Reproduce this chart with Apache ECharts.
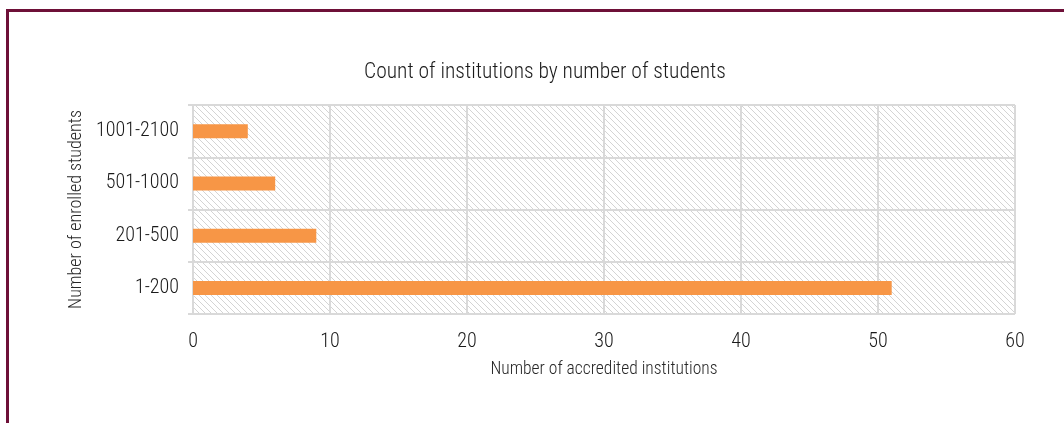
<!DOCTYPE html>
<html>
<head>
<meta charset="utf-8">
<script src="https://cdn.jsdelivr.net/npm/echarts@6/dist/echarts.min.js"></script>
<style>
  html, body { margin: 0; padding: 0; background: #fff; }
  #chart { width: 1064px; height: 423px; position: relative; }
  #frame { position: absolute; left: 6px; top: 9px; right: 0; bottom: 0;
           border-left: 3px solid #6e1038; border-top: 3px solid #6e1038; pointer-events: none; }
</style>
</head>
<body>
<div id="chart"></div>
<div id="frame"></div>
<script>
// Enrolment bands and how many accredited institutions fall in each
const categories = ['1-200', '201-500', '501-1000', '1001-2100'];
const institutionCounts = [51, 9, 6, 4];
const xTicks = { min: 0, max: 60, interval: 10 };

const FONT = "'Roboto Condensed', 'Liberation Sans Narrow', sans-serif";
const WEIGHT = 300;

// Light diagonal hatch tile used as the plot background
function hatchTile() {
  const s = 6;
  const c = document.createElement('canvas');
  c.width = s; c.height = s;
  const g = c.getContext('2d');
  g.strokeStyle = '#d4d4d4';
  g.lineWidth = 1;
  g.beginPath();
  g.moveTo(-1, -1); g.lineTo(s + 1, s + 1);
  g.moveTo(-1, s - 1); g.lineTo(1, s + 1);
  g.moveTo(s - 1, -1); g.lineTo(s + 1, 1);
  g.stroke();
  return c;
}

const chart = echarts.init(document.getElementById('chart'), null, { renderer: 'canvas' });
chart.setOption({
  animation: false,
  title: {
    text: 'Count of institutions by number of students',
    left: 540, top: 57, textAlign: 'center',
    textStyle: { fontFamily: FONT, fontSize: 21.5, fontWeight: WEIGHT, color: '#1a1a1a' }
  },
  grid: {
    left: 193, right: 49, top: 105, bottom: 109,
    show: true, borderWidth: 0,
    backgroundColor: { image: hatchTile(), repeat: 'repeat' }
  },
  xAxis: {
    type: 'value',
    min: xTicks.min, max: xTicks.max, interval: xTicks.interval,
    name: 'Number of accredited institutions',
    nameLocation: 'middle', nameGap: 47,
    nameTextStyle: { fontFamily: FONT, fontSize: 17.5, fontWeight: WEIGHT, color: '#262626' },
    axisLine: { show: false },
    axisTick: { show: false },
    axisLabel: { fontFamily: FONT, fontSize: 20, fontWeight: WEIGHT, color: '#1a1a1a', margin: 18 },
    splitLine: { show: true, lineStyle: { color: '#d9d9d9', width: 2 } }
  },
  yAxis: {
    type: 'category',
    data: categories,
    name: 'Number of enrolled students',
    nameLocation: 'middle', nameGap: 106, nameRotate: 90,
    nameTextStyle: { fontFamily: FONT, fontSize: 18, fontWeight: WEIGHT, color: '#262626' },
    axisLine: { show: true, lineStyle: { color: '#d9d9d9', width: 2 } },
    axisTick: { show: true, length: 5, lineStyle: { color: '#d9d9d9', width: 2 } },
    axisLabel: { fontFamily: FONT, fontSize: 20, fontWeight: WEIGHT, color: '#1a1a1a', margin: 14 },
    splitLine: { show: true, lineStyle: { color: '#d9d9d9', width: 2 } }
  },
  series: [{
    type: 'bar',
    data: institutionCounts,
    barWidth: 14,
    itemStyle: { color: '#f79646' }
  }]
});
</script>
</body>
</html>
